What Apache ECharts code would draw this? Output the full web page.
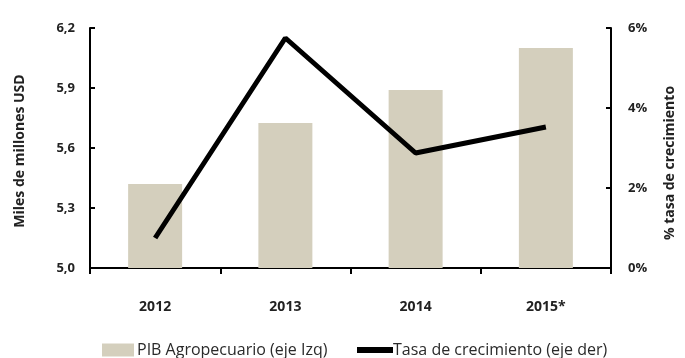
<!DOCTYPE html>
<html>
<head>
<meta charset="utf-8">
<script src="https://cdn.jsdelivr.net/npm/echarts@6/dist/echarts.min.js"></script>
<style>
  html, body { margin: 0; padding: 0; background: #fff; }
  #chart { width: 685px; height: 358px; }
</style>
</head>
<body>
<div id="chart"></div>
<script>
// Years on the category axis
const years = ['2012', '2013', '2014', '2015*'];
// Agricultural GDP, billions of USD (left axis)
const pibAgro = [5.42, 5.725, 5.89, 6.10];
// Growth rate, percent (right axis)
const tasaCrecimiento = [0.75, 5.75, 2.875, 3.525];

const FONT = '"Open Sans", "DejaVu Sans", sans-serif';
const fmtComma = v => v.toFixed(1).replace('.', ',');

const chart = echarts.init(document.getElementById('chart'));
chart.setOption({
  animation: false,
  backgroundColor: '#ffffff',
  textStyle: { fontFamily: FONT },
  grid: { left: 90, right: 69, top: 28, bottom: 90 },
  legend: [
    {
      data: [{ name: 'PIB Agropecuario (eje Izq)', icon: 'rect' }],
      left: 97, top: 337,
      itemWidth: 32, itemHeight: 13, itemGap: 4,
      textStyle: { fontFamily: FONT, fontSize: 16, color: '#2a2a2a', padding: [0, 0, 0, -2] }
    },
    {
      data: [{ name: 'Tasa de crecimiento (eje der)', icon: 'rect' }],
      left: 352, top: 337,
      itemWidth: 36, itemHeight: 6, itemGap: 0,
      textStyle: { fontFamily: FONT, fontSize: 16, color: '#2a2a2a', padding: [0, 0, 0, -5] }
    }
  ],
  xAxis: {
    type: 'category',
    data: years,
    axisLine: { lineStyle: { color: '#000', width: 2 } },
    axisTick: { show: true, length: 6, lineStyle: { color: '#000', width: 2 } },
    axisLabel: { margin: 32, fontSize: 14, fontWeight: 'bold', color: '#222', fontFamily: FONT }
  },
  yAxis: [
    {
      type: 'value',
      min: 5.0, max: 6.2, interval: 0.3,
      name: 'Miles de millones USD',
      nameLocation: 'middle', nameRotate: 90, nameGap: 63,
      nameTextStyle: { fontSize: 14, fontWeight: 'bold', color: '#222', fontFamily: FONT,
                       padding: [0, 6, 0, 0] },
      axisLine: { show: true, lineStyle: { color: '#000', width: 2 } },
      axisTick: { show: true, inside: true, length: 5, lineStyle: { color: '#000', width: 2 } },
      splitLine: { show: false },
      axisLabel: { margin: 15, fontSize: 13, fontWeight: 'bold', color: '#222', fontFamily: FONT,
                   formatter: v => fmtComma(v) }
    },
    {
      type: 'value',
      min: 0, max: 6, interval: 2,
      name: '% tasa de crecimiento',
      nameLocation: 'middle', nameRotate: 90, nameGap: 52,
      nameTextStyle: { fontSize: 14, fontWeight: 'bold', color: '#222', fontFamily: FONT,
                       padding: [0, 30, 0, 0] },
      axisLine: { show: true, lineStyle: { color: '#000', width: 2 } },
      axisTick: { show: true, inside: true, length: 5, lineStyle: { color: '#000', width: 2 } },
      splitLine: { show: false },
      axisLabel: { margin: 17, fontSize: 13, fontWeight: 'bold', color: '#222', fontFamily: FONT,
                   formatter: v => v + '%' }
    }
  ],
  series: [
    {
      name: 'PIB Agropecuario (eje Izq)',
      type: 'bar',
      yAxisIndex: 0,
      data: pibAgro,
      barWidth: 54,
      itemStyle: { color: '#d4cfbd' }
    },
    {
      name: 'Tasa de crecimiento (eje der)',
      type: 'line',
      yAxisIndex: 1,
      data: tasaCrecimiento,
      symbol: 'none',
      lineStyle: { color: '#000', width: 5 },
      itemStyle: { color: '#000' }
    }
  ]
});
</script>
</body>
</html>
